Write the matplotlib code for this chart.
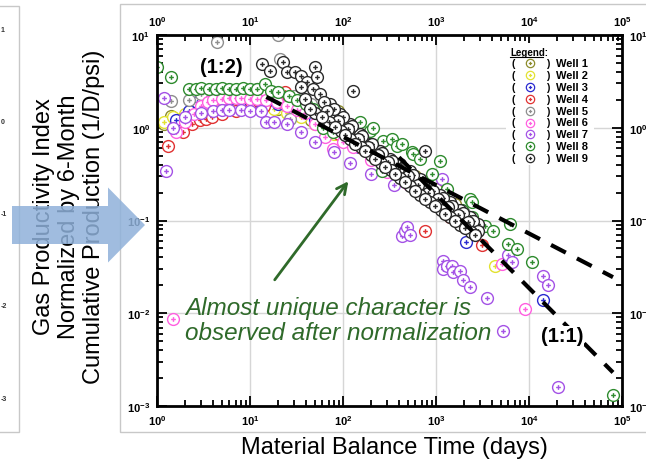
import numpy as np
import matplotlib.pyplot as plt
from matplotlib.path import Path
from matplotlib.patches import Rectangle, FancyArrow

plt.rcParams['font.family'] = ['Liberation Sans', 'DejaVu Sans']

# (material balance time [days], normalized productivity index)
well1 = [(1.4, 1.35), (1.2, 1.1), (2.5, 1.6), (4, 1.7), (6, 1.75), (9, 1.75), (14, 1.7), (20, 1.6),
         (30, 1.4), (45, 1.2), (70, 1.5), (89, 1.5), (120, 0.8), (200, 0.6), (350, 0.42), (600, 0.3),
         (1000, 0.22), (1600, 0.15)]
well2 = [(1.2, 1.15), (1.5, 1.3), (2, 1.4), (3, 1.55), (4, 1.6), (5.6, 1.7), (8, 1.65), (12, 1.65),
         (18, 1.6), (25, 1.45), (35, 1.3), (50, 1.1), (80, 0.85), (130, 0.65), (250, 0.45), (500, 0.3),
         (900, 0.2), (1500, 0.14), (4300, 0.032)]
well3 = [(1.6, 1.2), (2.2, 1.5), (2.7, 1.9), (3.5, 2.0), (4.5, 2.1), (6, 2.05), (8, 2.0), (11, 1.95),
         (15, 1.9), (20, 1.8), (30, 1.6), (50, 1.2), (80, 0.9), (150, 0.62), (300, 0.42), (600, 0.28),
         (1200, 0.17), (2100, 0.059), (14000, 0.014)]
well4 = [(1.3, 0.63), (1.9, 0.9), (2.4, 1.1), (2.9, 1.2), (3.4, 1.25), (3.9, 1.3), (5, 1.4), (7, 1.5),
         (10, 1.6), (14, 1.7), (20, 1.9), (24, 2.4), (35, 1.6), (55, 1.2), (90, 0.85), (160, 0.6),
         (300, 0.42), (550, 0.28), (760, 0.078), (1000, 0.16), (1400, 0.11), (3100, 0.054)]
well5 = [(1.4, 1.95), (2.2, 2.0), (3, 2.3), (4.4, 8.4), (5, 2.4), (8, 2.5), (12, 2.6), (20, 10.0),
         (21, 5.5), (27, 1.23), (30, 2.2), (45, 1.8), (60, 1.25), (70, 1.3), (90, 1.05), (100, 1.0),
         (140, 0.8), (150, 0.75), (220, 0.58), (250, 0.55), (330, 0.44), (400, 0.4), (500, 0.34),
         (700, 0.27), (800, 0.25), (1200, 0.18), (1300, 0.16), (2000, 0.12), (2200, 0.1), (2600, 0.075)]
well6 = [(1.5, 0.0087), (1.6, 0.9), (2.0, 1.16), (2.5, 1.4), (3, 1.7), (3.5, 1.9), (4, 2.0), (5, 2.05),
         (6, 2.1), (7, 2.1), (8, 2.1), (10, 2.05), (12, 2.05), (15, 2.0), (19.5, 1.9), (25, 1.7),
         (32, 1.55), (39, 1.43), (50, 1.1), (64, 0.8), (78, 0.59), (100, 0.7), (128, 0.62), (200, 0.45),
         (300, 0.33), (500, 0.25), (800, 0.19), (1300, 0.14), (2000, 0.1), (5100, 0.034), (9100, 0.011)]
well7 = [(1.25, 0.34), (1.2, 2.1), (1.5, 1.0), (2, 1.3), (3, 1.45), (4, 1.5), (5, 1.55), (6, 1.55),
         (8, 1.55), (10, 1.5), (13, 1.5), (15, 1.15), (18, 1.15), (25, 1.1), (35, 0.9), (50, 0.7),
         (80, 0.55), (120, 0.42), (200, 0.32), (350, 0.24), (430, 0.068), (465, 0.077), (490, 0.085),
         (525, 0.07), (1150, 0.28), (1200, 0.037), (1200, 0.03), (1320, 0.032), (1480, 0.032),
         (1520, 0.028), (1800, 0.0285), (1950, 0.023), (2330, 0.019), (3530, 0.0145), (5250, 0.0065),
         (5900, 0.042), (6600, 0.036), (14100, 0.025), (16000, 0.02), (20500, 0.0016)]
well8 = [(1.0, 4.5), (1.4, 3.5), (2.2, 2.6), (2.6, 2.6), (3.0, 2.65), (3.6, 2.6), (4.3, 2.6), (5, 2.65),
         (6, 2.6), (7, 2.6), (8.5, 2.65), (10, 2.6), (12, 2.6), (14.5, 2.95), (17, 2.5), (20, 2.4),
         (26, 2.2), (32, 2.0), (40, 1.8), (47, 1.6), (61, 1.0), (78, 0.91), (100, 1.0), (152, 1.15),
         (195, 0.92), (210, 1.0), (270, 0.72), (265, 0.34), (335, 0.76), (380, 0.63), (430, 0.66),
         (550, 0.55), (570, 0.52), (675, 0.46), (900, 0.32), (1100, 0.44), (1300, 0.22), (1820, 0.117),
         (1900, 0.13), (2330, 0.17), (2450, 0.16), (2450, 0.11), (3370, 0.087), (4100, 0.077),
         (5900, 0.056), (6300, 0.091), (7400, 0.049), (10800, 0.036), (80000, 0.0013)]
well9 = [(13.5, 4.9), (16.5, 4.1), (22.6, 5.1), (25, 4.0), (30.5, 4.0), (35, 3.6), (41, 3.1), (35, 2.75),
         (47, 2.6), (50, 4.5), (52, 3.5), (56, 2.3), (128, 2.5), (73, 1.8), (93, 1.4), (119, 1.1),
         (152, 0.86), (195, 0.66), (250, 0.56), (320, 0.46), (410, 0.41), (525, 0.34), (675, 0.28),
         (870, 0.23), (1100, 0.19), (1410, 0.16), (1820, 0.13), (2330, 0.11), (2800, 0.091), (760, 0.56),
         (62, 1.9), (80, 1.6), (100, 1.3), (125, 1.05), (160, 0.82), (205, 0.66), (265, 0.53),
         (340, 0.44), (440, 0.37), (560, 0.31), (720, 0.255), (920, 0.21), (1180, 0.175), (1500, 0.145),
         (1950, 0.12), (2500, 0.1),
         (39, 2.05), (67, 1.5), (89, 1.17), (113, 0.97), (145, 0.76), (186, 0.62), (240, 0.51),
         (302, 0.43), (390, 0.36), (500, 0.30), (645, 0.24), (815, 0.20), (1050, 0.17), (1350, 0.14),
         (1740, 0.115), (2200, 0.096), (2800, 0.077),
         (50, 1.45), (70, 1.15), (95, 0.92), (120, 0.75), (155, 0.62), (200, 0.51), (255, 0.42),
         (325, 0.35), (415, 0.29), (530, 0.235), (680, 0.19), (870, 0.16), (1120, 0.13), (1420, 0.11),
         (1820, 0.09), (2350, 0.075),
         (44, 1.6), (59, 1.3), (82, 1.02), (105, 0.83), (135, 0.67), (173, 0.56), (220, 0.46),
         (282, 0.38), (363, 0.32), (465, 0.26), (590, 0.21), (760, 0.17), (975, 0.145), (1250, 0.118),
         (1590, 0.10), (2050, 0.082), (2630, 0.069)]

wells = [well1, well2, well3, well4, well5, well6, well7, well8, well9]
names = ['Well 1', 'Well 2', 'Well 3', 'Well 4', 'Well 5', 'Well 6', 'Well 7', 'Well 8', 'Well 9']
colors = ['#8c8c2c', '#e2e230', '#2a2ad0', '#e03232', '#8e8e8e', '#ff5ee0', '#a452e6', '#2e8b2e', '#2a2a2a']

# reference slope lines (1:2 and 1:1)
half_x = [15, 80000]
half_y = [2.15, 0.0245]
unit_x = [400, 80000]
unit_y = [0.48, 0.0023]

W, H = 646, 464
def fx(px):
    return px / W
def fy(py):
    return 1 - py / H
def axx(px):
    return (px - 157) / 465
def axy(py):
    return (407 - py) / 371

fig = plt.figure(figsize=(W / 100, H / 100), dpi=100)

# slide frames
fig.patches.append(Rectangle((fx(120), fy(433)), fx(600), fy(5) - fy(433), transform=fig.transFigure,
                             fill=False, ec='#c8c8c8', lw=1))
fig.patches.append(Rectangle((fx(-5), fy(433)), fx(24), fy(7) - fy(433), transform=fig.transFigure,
                             fill=False, ec='#c8c8c8', lw=1))
for py, s in zip([30, 122, 215, 307, 400], ['1', '0', '-1', '-2', '-3']):
    fig.text(fx(1), fy(py), s, fontsize=5, fontweight='bold', color='#333333', va='center')

ax = fig.add_axes([fx(157), fy(407), fx(622) - fx(157), fy(36) - fy(407)])
ax.set_xscale('log')
ax.set_yscale('log')
ax.set_xlim(1, 1e5)
ax.set_ylim(1e-3, 1e1)
ax.grid(True, which='major', color='#d6d6d6', lw=1)
ax.set_axisbelow(True)
for sp in ax.spines.values():
    sp.set_linewidth(2)
ax.tick_params(which='both', direction='in', top=True, right=True, labeltop=True, labelright=True,
               width=1.3, labelsize=8, pad=5)
ax.tick_params(which='major', length=7)
ax.tick_params(which='minor', length=4)
for lbl in ax.get_xticklabels() + ax.get_yticklabels():
    lbl.set_fontweight('bold')

circ = Path.unit_circle()
plus = Path([[-0.4, 0], [0.4, 0], [0, -0.4], [0, 0.4]],
            [Path.MOVETO, Path.LINETO, Path.MOVETO, Path.LINETO])
oplus = Path.make_compound_path(circ, plus)

for pts, c in zip(wells, colors):
    xs = [p[0] for p in pts]
    ys = [p[1] for p in pts]
    ax.plot(xs, ys, ls='none', marker=oplus, ms=8.5, mfc='white', mec=c, mew=1.0)

ax.plot(half_x, half_y, color='black', lw=3, ls=(0, (4, 3)), zorder=5)
ax.plot(unit_x, unit_y, color='black', lw=3, ls=(0, (4, 3)), zorder=5)

ax.text(axx(221), axy(68), '(1:2)', transform=ax.transAxes, fontsize=14.5, fontweight='bold',
        ha='center', va='center')
ax.text(axx(562), axy(337), '(1:1)', transform=ax.transAxes, fontsize=14.5,
        fontweight='bold', ha='center', va='center', zorder=6,
        bbox=dict(fc='white', ec='none', pad=0.5))

green = '#2f6a2a'
ax.annotate('', xy=(119, 0.28), xytext=(17.7, 0.0217),
            arrowprops=dict(arrowstyle='->', color=green, lw=2, mutation_scale=18))
ax.text(axx(185), axy(321), 'Almost unique character is\nobserved after normalization',
        transform=ax.transAxes, fontsize=17.5, style='italic', color=green, ha='left', va='center',
        linespacing=1.1)

# legend box
ax.add_patch(Rectangle((axx(506), axy(166)), 88 / 465, 122 / 371, transform=ax.transAxes,
                       fc='white', ec='none', zorder=6))
ax.text(axx(510), axy(53), 'Legend:', transform=ax.transAxes, fontsize=7,
        fontweight='bold', va='center', zorder=7)
ax.plot([axx(510), axx(543)], [axy(58)] * 2, transform=ax.transAxes,
        color='black', lw=0.8, zorder=7)
for i, (nm, c) in enumerate(zip(names, colors)):
    yy = axy(64 + 11.9 * i)
    ax.text(axx(511), yy, '(', transform=ax.transAxes, fontsize=7.5, fontweight='bold',
            va='center', zorder=7)
    ax.text(axx(546), yy, ')', transform=ax.transAxes, fontsize=7.5, fontweight='bold',
            va='center', zorder=7)
    ax.plot([axx(530)], [yy], transform=ax.transAxes, ls='none', marker=oplus, ms=6,
            mfc='white', mec=c, mew=0.9, zorder=7)
    ax.text(axx(556), yy, nm, transform=ax.transAxes, fontsize=8, fontweight='bold',
            va='center', zorder=7)

# axis titles as on the slide
fig.text(fx(394), fy(448), 'Material Balance Time (days)', fontsize=17, ha='center', va='center')
fig.text(fx(69), fy(217), 'Gas Productivity Index\nNormalized by 6-Month\nCumulative Production (1/D/psi)',
         fontsize=17, rotation=90, ha='center', va='center', multialignment='center', linespacing=1.2)

fig.patches.append(FancyArrow(fx(12), fy(226), fx(145) - fx(12), 0, width=fy(207) - fy(245),
                              head_width=fy(188) - fy(263), head_length=fx(37),
                              length_includes_head=True, transform=fig.transFigure,
                              fc='#8fb1da', ec='none', alpha=0.85, zorder=10))

fig.savefig('out.png', dpi=100)
